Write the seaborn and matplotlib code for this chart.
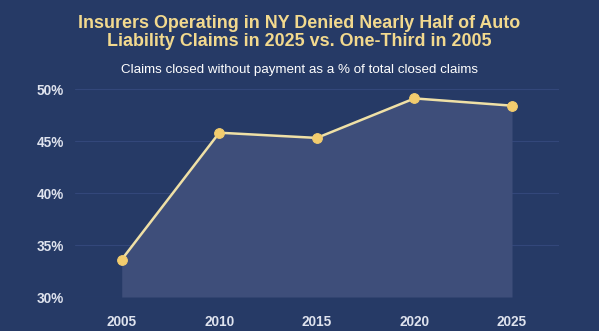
import matplotlib
matplotlib.use("Agg")
import matplotlib.pyplot as plt
import seaborn as sns
import pandas as pd

years = [2005, 2010, 2015, 2020, 2025]
denied_pct = [33.6, 45.8, 45.3, 49.1, 48.4]
yticks = [30, 35, 40, 45, 50]
ytick_labels = ["30%", "35%", "40%", "45%", "50%"]
title = "Insurers Operating in NY Denied Nearly Half of Auto\nLiability Claims in 2025 vs. One-Third in 2005"
subtitle = "Claims closed without payment as a % of total closed claims"

BG = "#263a66"
FILL = "#3e4e7a"
GRID = "#33477a"
LINE = "#efe0a6"
MARK = "#f2cc6e"
GOLD = "#f2d98e"
TXT = "#dfe3ee"

sns.set_theme(style="white")
plt.rcParams["font.family"] = ["Liberation Sans", "DejaVu Sans"]

df = pd.DataFrame({"year": years, "pct": denied_pct})

fig = plt.figure(figsize=(5.99, 3.31), dpi=100, facecolor=BG)
ax = fig.add_axes([0.125, 0.1027, 0.808, 0.644])
ax.set_facecolor(BG)

ax.fill_between(df["year"], df["pct"], 30, color=FILL, zorder=1, linewidth=0)
sns.lineplot(data=df, x="year", y="pct", ax=ax, color=LINE, linewidth=1.8,
             marker="o", markersize=7, markerfacecolor=MARK,
             markeredgecolor=MARK, zorder=3)

ax.set_xlim(2002.6, 2027.4)
ax.set_ylim(30, 50.5)
ax.set_yticks(yticks)
ax.set_yticklabels(ytick_labels)
ax.set_xticks(years)
ax.set_xticklabels([str(y) for y in years])
for y in yticks:
    ax.axhline(y, color=GRID, linewidth=0.8, zorder=0.5)
ax.tick_params(axis="both", length=0, colors=TXT, labelsize=9.8)
ax.tick_params(axis="y", pad=8)
ax.tick_params(axis="x", pad=13)
for lab in ax.get_xticklabels() + ax.get_yticklabels():
    lab.set_fontweight("bold")
ax.set_xlabel("")
ax.set_ylabel("")
for s in ax.spines.values():
    s.set_visible(False)

fig.text(0.5, 0.902, title, ha="center", va="center", color=GOLD,
         fontsize=12.9, fontweight="bold", linespacing=1.12)
fig.text(0.5, 0.79, subtitle, ha="center", va="center", color="white",
         fontsize=9.6)

fig.savefig("out.png", dpi=100, facecolor=BG)
